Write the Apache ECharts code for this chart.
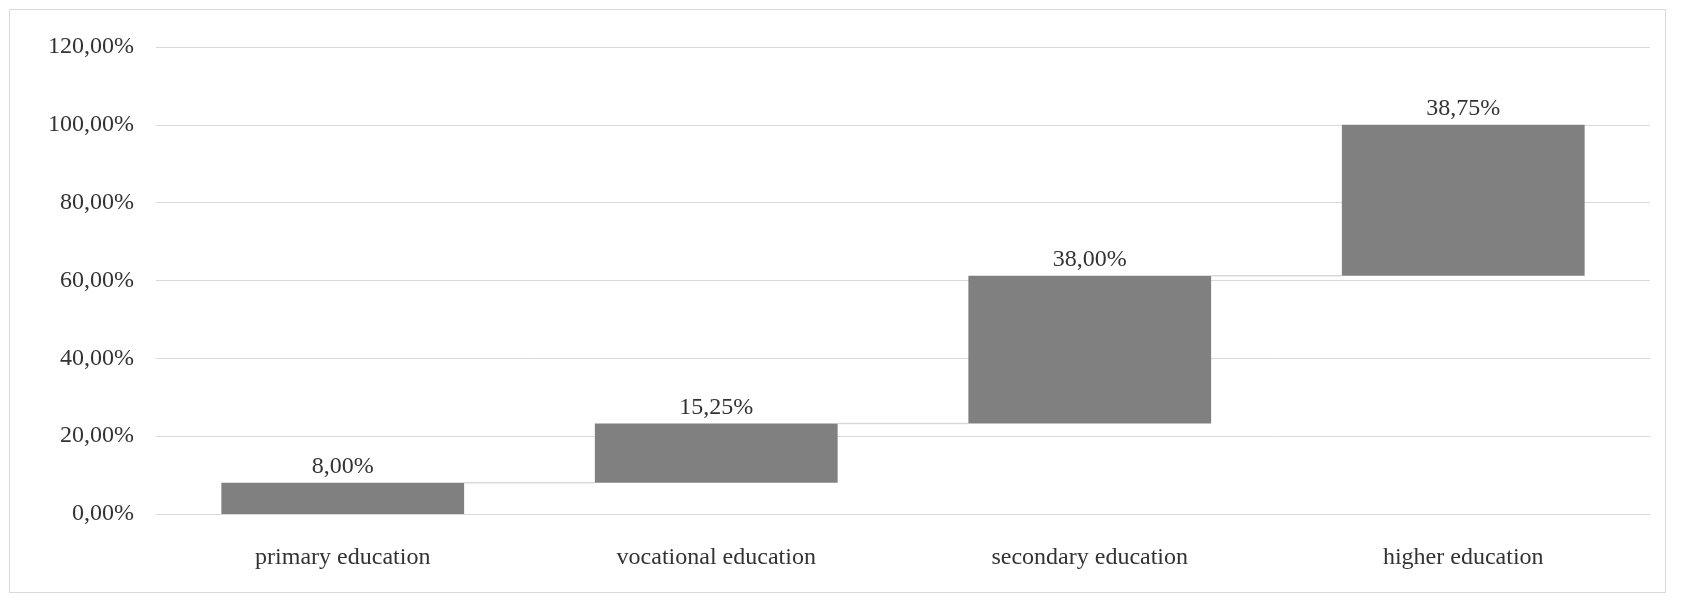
<!DOCTYPE html>
<html><head><meta charset="utf-8">
<script src="https://cdn.jsdelivr.net/npm/echarts@6/dist/echarts.min.js"></script>
<style>html,body{margin:0;padding:0;background:#fff}
#frame{position:absolute;left:9px;top:9px;width:1657px;height:584px;border:1px solid #d9d9d9;box-sizing:border-box}
#c{width:1682px;height:602px}</style></head>
<body><div id="frame"></div><div id="c"></div>
<script>
const categories=['primary education','vocational education','secondary education','higher education'];
const values=[8.00,15.25,38.00,38.75];
const yTicks=[0,20,40,60,80,100,120];
const bases=[];let acc=0;for(const v of values){bases.push(acc);acc+=v;}
const fmt=v=>v.toFixed(2).replace('.',',')+'%';
const font='Liberation Serif';
const chart=echarts.init(document.getElementById('c'));
chart.setOption({
 animation:false,
 grid:{left:156,right:32,top:47,bottom:88},
 xAxis:{type:'category',data:categories,axisTick:{show:false},axisLine:{lineStyle:{color:'#d9d9d9'}},
  axisLabel:{color:'#333',fontFamily:font,fontSize:24,margin:32}},
 yAxis:{type:'value',min:0,max:120,interval:20,axisLine:{show:false},axisTick:{show:false},
  splitLine:{lineStyle:{color:'#d9d9d9',width:1}},
  axisLabel:{color:'#333',fontFamily:font,fontSize:24,margin:22,formatter:v=>v.toFixed(2).replace('.',',')+'%'}},
 series:[
  {type:'bar',stack:'w',data:bases,itemStyle:{color:'transparent'},barWidth:'65%'},
  {type:'bar',stack:'w',data:values,itemStyle:{color:'#808080'},barWidth:'65%',
   label:{show:true,position:'top',distance:4,color:'#333',fontFamily:font,fontSize:24,formatter:p=>fmt(p.value)}},
  {type:'custom',data:values.slice(0,-1).map((v,i)=>[i,bases[i]+v]),
   renderItem:(params,api)=>{const i=api.value(0),y=api.value(1);
    const w=api.size([1,0])[0]*0.65/2;
    const p1=api.coord([i,y]),p2=api.coord([i+1,y]);
    return {type:'line',shape:{x1:p1[0]+w,y1:p1[1],x2:p2[0]-w,y2:p2[1]},style:{stroke:'#d9d9d9',lineWidth:1.5}};},
   z:1}
 ]
});
</script></body></html>
